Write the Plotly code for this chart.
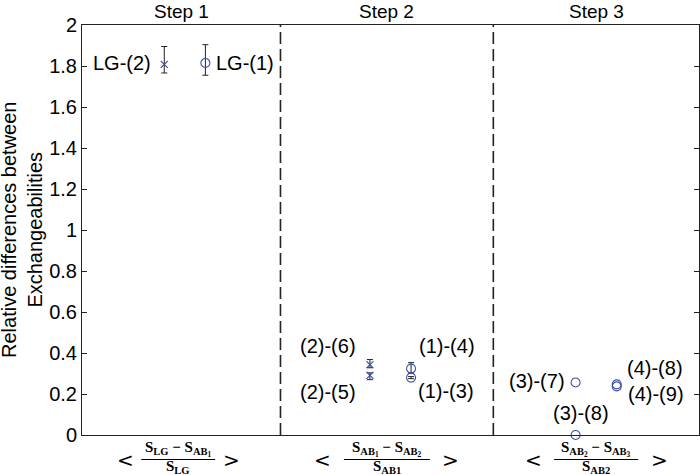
import plotly.graph_objects as go

# ---------------- data ----------------
step_titles = ["Step 1", "Step 2", "Step 3"]
step_bounds = [0.0, 0.965, 2.0, 3.0]          # section edges on the x scale

# "x" markers (with error bars)
cross_x = [0.4, 1.4, 1.4]
cross_y = [1.808, 0.343, 0.291]
cross_err_plus = [0.087, 0.025, 0.012]
cross_err_minus = [0.042, 0.015, 0.021]
cross_labels = ["LG-(2)", "(2)-(6)", "(2)-(5)"]

# "o" markers with error bars
circ_x = [0.6, 1.6, 1.6]
circ_y = [1.815, 0.324, 0.280]
circ_err_plus = [0.089, 0.029, 0.005]
circ_err_minus = [0.060, 0.022, 0.005]
circ_labels = ["LG-(1)", "(1)-(4)", "(1)-(3)"]

# "o" markers, step 3 (no error bars)
circ3_x = [2.4, 2.4, 2.6, 2.6]
circ3_y = [0.256, 0.0, 0.247, 0.237]
circ3_labels = ["(3)-(7)", "(3)-(8)", "(4)-(8)", "(4)-(9)"]

x_label_num = ["S<sub>LG</sub> − S<sub>AB<sub>1</sub></sub>",
               "S<sub>AB<sub>1</sub></sub> − S<sub>AB<sub>2</sub></sub>",
               "S<sub>AB<sub>2</sub></sub> − S<sub>AB<sub>3</sub></sub>"]
x_label_den = ["S<sub>LG</sub>", "S<sub>AB1</sub>", "S<sub>AB2</sub>"]

y_ticks = [0, 0.2, 0.4, 0.6, 0.8, 1, 1.2, 1.4, 1.6, 1.8, 2]
y_title = "Relative differences between<br>Exchangeabilities"

# ---------------- styling ----------------
BLUE = "#3f4fa6"
FONT = "Liberation Sans, Arial, Helvetica, sans-serif"
FS = 20
W, H = 700, 475
ML, MR, MT, MB = 82, 1, 25, 40
PW = W - ML - MR
PH = H - MT - MB
XMIN, XMAX = 0.0, 3.0
PX_PER_X = PW / (XMAX - XMIN)

fig = go.Figure()

fig.add_trace(go.Scatter(
    x=cross_x, y=cross_y, mode="markers",
    marker=dict(symbol="x-thin-open", size=7, color=BLUE, line=dict(color=BLUE, width=1.2)),
    error_y=dict(type="data", symmetric=False, array=cross_err_plus, arrayminus=cross_err_minus,
                 color="#222222", thickness=1, width=3),
    cliponaxis=False, showlegend=False))

fig.add_trace(go.Scatter(
    x=circ_x, y=circ_y, mode="markers",
    marker=dict(symbol="circle-open", size=9, color=BLUE, line=dict(color=BLUE, width=1.1)),
    error_y=dict(type="data", symmetric=False, array=circ_err_plus, arrayminus=circ_err_minus,
                 color="#222222", thickness=1, width=3),
    cliponaxis=False, showlegend=False))

fig.add_trace(go.Scatter(
    x=circ3_x, y=circ3_y, mode="markers",
    marker=dict(symbol="circle-open", size=9, color=BLUE, line=dict(color=BLUE, width=1.1)),
    cliponaxis=False, showlegend=False))

annotations = []

# point labels: (xanchor, xshift, yshift) relative to each point
cross_off = [("right", -11, 1), ("right", -12, 19), ("right", -12, -17)]
circ_off = [("left", 9, 0), ("left", 6, 23), ("left", 5, -13)]
circ3_off = [("right", -9, 2), ("center", 5, 22), ("left", 8, 16), ("left", 9, -8)]

for xs, ys, labs, offs in [(cross_x, cross_y, cross_labels, cross_off),
                           (circ_x, circ_y, circ_labels, circ_off),
                           (circ3_x, circ3_y, circ3_labels, circ3_off)]:
    for xv, yv, lab, (xa, dx, dy) in zip(xs, ys, labs, offs):
        annotations.append(dict(x=xv, y=yv, xref="x", yref="y", text=lab, showarrow=False,
                                xanchor=xa, yanchor="middle", xshift=dx, yshift=dy,
                                font=dict(family=FONT, size=FS, color="black")))

# step titles and x-axis fraction labels
centers = [(step_bounds[i] + step_bounds[i + 1]) / 2 for i in range(3)]
bar_half = [37, 43, 42]
bracket_off = [53, 64, 63]
frac_center_shift = [-3, 0, 0]
SERIF = "Liberation Serif, DejaVu Serif, Times New Roman, serif"
shapes = []
for i, c in enumerate(centers):
    annotations.append(dict(x=c, y=1, xref="x", yref="paper", text=step_titles[i], showarrow=False,
                            xanchor="center", yanchor="middle", yshift=14,
                            font=dict(family=FONT, size=FS - 1, color="black")))
    cx = c + frac_center_shift[i] / PX_PER_X
    annotations.append(dict(x=cx, y=0, xref="x", yref="paper", text="<b>" + x_label_num[i] + "</b>",
                            showarrow=False, xanchor="center", yanchor="middle", yshift=-14,
                            font=dict(family=SERIF, size=15, color="black")))
    annotations.append(dict(x=cx, y=0, xref="x", yref="paper", text="<b>" + x_label_den[i] + "</b>",
                            showarrow=False, xanchor="center", yanchor="middle", yshift=-32,
                            font=dict(family=SERIF, size=15, color="black")))
    for sign, ch in [(-1, "&lt;"), (1, "&gt;")]:
        annotations.append(dict(x=cx + sign * bracket_off[i] / PX_PER_X, y=0, xref="x", yref="paper",
                                text=ch, showarrow=False, xanchor="center", yanchor="middle",
                                yshift=-25, font=dict(family="DejaVu Sans, sans-serif", size=20, color="black")))
    shapes.append(dict(type="line", xref="x", yref="paper",
                       x0=cx - bar_half[i] / PX_PER_X, x1=cx + bar_half[i] / PX_PER_X,
                       y0=-24.5 / PH, y1=-24.5 / PH, line=dict(color="black", width=1)))

# dashed dividers
for b in step_bounds[1:-1]:
    shapes.append(dict(type="line", xref="x", yref="paper", x0=b, x1=b, y0=0, y1=1,
                       line=dict(color="#222222", width=1.6, dash="12px,5px")))

# y axis title
annotations.append(dict(x=-60 / PW, y=0.5, xref="paper", yref="paper", text=y_title,
                        showarrow=False, textangle=-90, xanchor="center", yanchor="middle",
                        font=dict(family=FONT, size=FS, color="black")))

fig.update_layout(
    template="none",
    width=W, height=H,
    margin=dict(l=ML, r=MR, t=MT, b=MB, pad=0, autoexpand=False),
    paper_bgcolor="white", plot_bgcolor="white",
    annotations=annotations, shapes=shapes,
    font=dict(family=FONT, size=FS, color="black"),
    xaxis=dict(range=[XMIN, XMAX], showgrid=False, zeroline=False, showticklabels=False,
               automargin=False,
               ticks="", showline=True, linecolor="#222222", linewidth=1, mirror=True),
    yaxis=dict(range=[0, 2], tickvals=y_ticks, ticktext=[f"{v:g}" for v in y_ticks],
               automargin=False,
               showgrid=False, zeroline=False, ticks="inside", ticklen=5, tickcolor="#222222",
               showline=True, linecolor="#222222", linewidth=1, mirror="ticks",
               tickfont=dict(family=FONT, size=FS, color="black")),
)

fig.write_html("out.html", config={"displayModeBar": False},
               post_script="document.body.style.margin='0';document.body.style.padding='0';")
